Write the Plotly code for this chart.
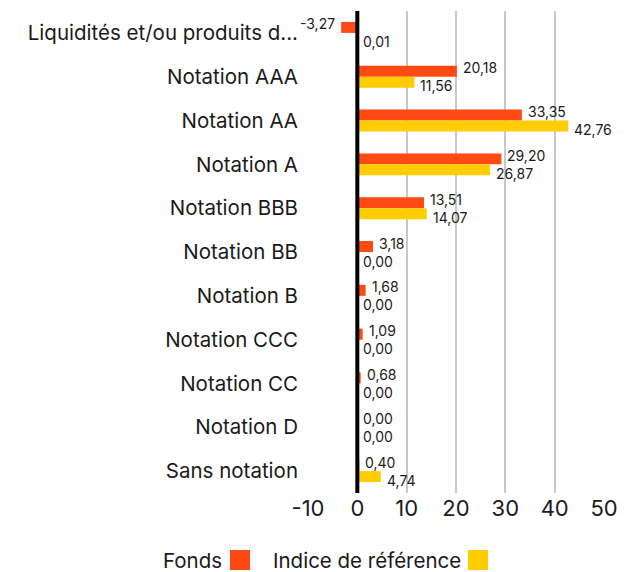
import plotly.graph_objects as go

categories = ["Liquidités et/ou produits d...", "Notation AAA", "Notation AA", "Notation A",
              "Notation BBB", "Notation BB", "Notation B", "Notation CCC", "Notation CC",
              "Notation D", "Sans notation"]
fonds = [-3.27, 20.18, 33.35, 29.20, 13.51, 3.18, 1.68, 1.09, 0.68, 0.00, 0.40]
indice = [0.01, 11.56, 42.76, 26.87, 14.07, 0.00, 0.00, 0.00, 0.00, 0.00, 4.74]
tick_vals = [-10, 0, 10, 20, 30, 40, 50]
series_names = ["Fonds", "Indice de référence"]
colors = ["#FF4A14", "#FFCC00"]

FONT = "Inter, Roboto, sans-serif"

def fmt(v):
    return f"{v:.2f}".replace(".", ",")

fig = go.Figure()
for name, vals, col in zip(series_names, [fonds, indice], colors):
    fig.add_trace(go.Bar(y=categories, x=vals, orientation="h", name=name,
                         marker=dict(color=col, line=dict(width=0)), showlegend=False))

ann = []
for vals, ys in [(fonds, 9), (indice, -9)]:
    for c, v in zip(categories, vals):
        ann.append(dict(x=v, y=c, xref="x", yref="y", text=fmt(v), showarrow=False,
                        xanchor="right" if v < 0 else "left", xshift=-4 if v < 0 else 4,
                        yshift=ys, font=dict(family=FONT, size=14, color="#1a1a1a")))

# custom legend: text followed by square
legend_items = [("Fonds", 223, 230, colors[0]), ("Indice de référence", 462, 468, colors[1])]
L, R, T, B = 307, 25, 11, 79
W, H = 630, 572
pw = W - L - R
ph = H - T - B
shapes = [dict(type="line", xref="x", yref="paper", x0=0, x1=0, y0=0, y1=1,
               line=dict(color="black", width=4), layer="above")]
for text, tx, sx, col in legend_items:
    ann.append(dict(x=(tx - L) / pw, y=(H - B - 560) / ph, xref="paper", yref="paper",
                    text=text, showarrow=False, xanchor="right", yanchor="middle",
                    borderpad=0,
                    font=dict(family=FONT, size=20.5, color="#1a1a1a")))
    shapes.append(dict(type="rect", xref="paper", yref="paper",
                       x0=(sx - L) / pw, x1=(sx + 20 - L) / pw,
                       y0=(H - B - 570) / ph, y1=(H - B - 550) / ph,
                       fillcolor=col, line=dict(width=0), layer="above"))

fig.update_layout(
    width=W, height=H, margin=dict(l=L, r=R, t=T, b=B, autoexpand=False),
    plot_bgcolor="white", paper_bgcolor="white",
    barmode="group", bargap=0.5, bargroupgap=0,
    font=dict(family=FONT, color="#1a1a1a"),
    annotations=ann, shapes=shapes,
    xaxis=dict(range=[-10.2, 50.2], tickvals=tick_vals, ticktext=[str(t) for t in tick_vals],
               showgrid=True, gridcolor="#C8C8C8", gridwidth=2, zeroline=False,
               tickfont=dict(size=22, family=FONT, color="#1a1a1a"), showline=False,
               fixedrange=True),
    yaxis=dict(categoryorder="array", categoryarray=categories, autorange="reversed",
               showgrid=False, zeroline=False, showline=False, ticks="",
               ticklabelstandoff=8,
               tickfont=dict(size=20.5, family=FONT, color="#1a1a1a"), automargin=False),
)
fig.write_html("out.html", config={"displayModeBar": False},
               post_script="document.body.style.margin='0';document.body.style.overflow='hidden';")
